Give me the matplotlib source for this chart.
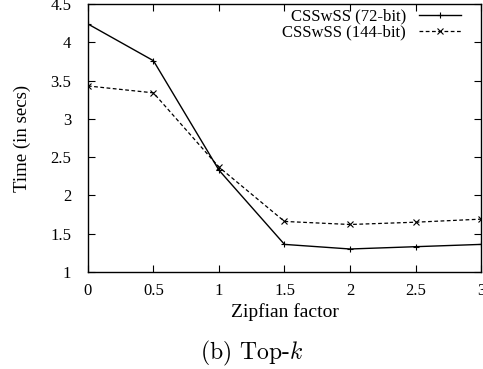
import matplotlib
matplotlib.use("Agg")
import matplotlib.pyplot as plt

zipf = [0, 0.5, 1, 1.5, 2, 2.5, 3]
time72 = [4.24, 3.76, 2.33, 1.36, 1.30, 1.33, 1.36]
time144 = [3.43, 3.34, 2.37, 1.66, 1.62, 1.65, 1.69]

xticks = [0, 0.5, 1, 1.5, 2, 2.5, 3]
xticklabels = ["0", "0.5", "1", "1.5", "2", "2.5", "3"]
yticks = [1, 1.5, 2, 2.5, 3, 3.5, 4, 4.5]
yticklabels = ["1", "1.5", "2", "2.5", "3", "3.5", "4", "4.5"]

plt.rcParams['font.family'] = ['Liberation Serif', 'DejaVu Serif']
plt.rcParams['mathtext.fontset'] = 'cm'

fig = plt.figure(figsize=(4.83, 3.69), dpi=100)
ax = fig.add_axes([0.182, 0.263, 0.814, 0.726])

ax.plot(zipf, time72, color='black', lw=1.0, marker='+', ms=5, mew=0.8,
        label='CSSwSS (72-bit)')
ax.plot(zipf, time144, color='black', lw=0.9, ls=(0, (3, 2)), marker='x', ms=4,
        mew=0.8, label='CSSwSS (144-bit)')

ax.set_xlim(0, 3)
ax.set_ylim(1, 4.5)
ax.set_xticks(xticks)
ax.set_xticklabels(xticklabels)
ax.set_yticks(yticks)
ax.set_yticklabels(yticklabels)
ax.tick_params(direction='in', top=True, right=True, length=5, width=0.8,
               labelsize=12)
ax.tick_params(axis='x', pad=8)
ax.tick_params(axis='y', pad=12)
for s in ax.spines.values():
    s.set_linewidth(1.0)

ax.set_xlabel('Zipfian factor', fontsize=14, labelpad=3)
ax.set_ylabel('Time (in secs)', fontsize=13.5, labelpad=14)

ax.legend(loc='upper right', markerfirst=False, frameon=False, fontsize=12,
          handlelength=2.5, handletextpad=0.8, labelspacing=0.0,
          borderaxespad=0.1, bbox_to_anchor=(0.97, 1.015))

fig.text(0.52, 0.042, '(b) Top-$k$', ha='center', va='center', fontsize=17,
         family='cmr10')

fig.savefig('out.png', dpi=100)
